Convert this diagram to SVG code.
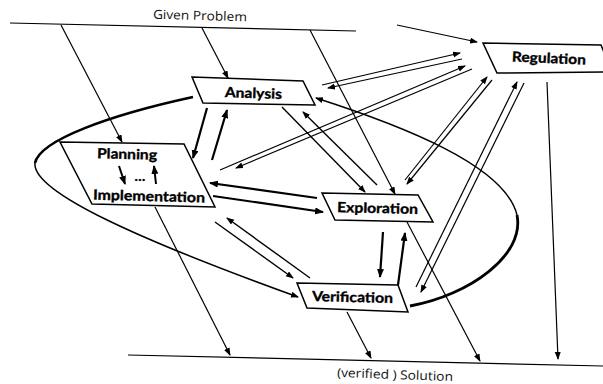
<svg xmlns="http://www.w3.org/2000/svg" width="603" height="384" viewBox="0 0 603 384">
  <style>
    .box { fill: #fff; stroke: #000; stroke-width: 1.5; }
    .lbl { font-family: Lato, "Liberation Sans", sans-serif; font-weight: bold; font-size: 14px; fill: #000; stroke: #000; stroke-width: 0.35; text-anchor: middle; }
    .cap { font-family: "Open Sans", "Liberation Sans", sans-serif; font-size: 12.5px; fill: #111; text-anchor: middle; }
    .ln { fill: none; stroke: #000; stroke-width: 1.2; }
    .ln2 { fill: none; stroke: #000; stroke-width: 1.4; }
    .th { fill: none; stroke: #000; stroke-width: 2.2; }
    .a { marker-end: url(#ah); }
    .ab { marker-end: url(#ahb); }
  </style>
  <defs>
    <marker id="ah" markerUnits="userSpaceOnUse" markerWidth="9" markerHeight="7" refX="7" refY="3" orient="auto">
      <path d="M0,0 L8,3 L0,6 z" fill="#000"/>
    </marker>
    <marker id="ahb" markerUnits="userSpaceOnUse" markerWidth="10" markerHeight="8" refX="8" refY="3.5" orient="auto">
      <path d="M0,0 L9,3.5 L0,7 z" fill="#000"/>
    </marker>
  </defs>
  <rect width="603" height="384" fill="#fff"/>

  <g id="connectors">
    <!-- input and output rails -->
    <path class="ln" d="M10,23 L356,31"/>
    <path class="ln" d="M128,355 L603,366"/>
    <path class="ln a" d="M397,25 L477,42"/>
    <path class="ln a" d="M61,25 L122,142"/>
    <path class="ln a" d="M202,28 L228,78"/>
    <path class="ln a" d="M310,30 L395,194"/>
    <path class="ln a" d="M407,222 L480,361"/>
    <path class="ln a" d="M155,207 L230,355"/>
    <path class="ln a" d="M347,312 L371,358"/>
    <path class="ln a" d="M547,82 L558,359"/>

    <!-- Analysis / Planning -->
    <path class="th ab" d="M207,108 L193,158"/>
    <path class="th ab" d="M212,160 L227,110"/>
    <!-- Analysis / Exploration -->
    <path class="ln2 a" d="M282,107 L365,192"/>
    <path class="ln2 a" d="M377,185 L303,112"/>
    <!-- Regulation pairs -->
    <path class="ln a" d="M322,85 L460,53"/>
    <path class="ln a" d="M462,59 L328,88"/>
    <path class="ln a" d="M220,170 L465,66"/>
    <path class="ln a" d="M472,69 L236,168"/>
    <path class="ln a" d="M405,180 L487,77"/>
    <path class="ln a" d="M492,80 L407,184"/>
    <path class="ln a" d="M416,287 L517,82"/>
    <path class="ln a" d="M524,83 L421,292"/>
    <!-- Planning / Exploration -->
    <path class="th ab" d="M317,198 L210,183"/>
    <path class="th ab" d="M213,196 L323,212"/>
    <!-- Planning / Verification -->
    <path class="ln2 a" d="M215,222 L293,278"/>
    <path class="ln2 a" d="M310,278 L227,218"/>
    <!-- Exploration / Verification -->
    <path class="th ab" d="M383,232 L380,277"/>
    <path class="th ab" d="M398,285 L405,233"/>

    <!-- outer loop, left side: Analysis round to Verification -->
    <path fill="none" stroke="#000" stroke-width="2.6" d="M193,97 C110,115 40,140 35,163"/>
    <path fill="none" stroke="#000" stroke-width="1.5" class="a" d="M35,163 C32,192 140,240 298,297"/>
    <!-- outer loop, right side: Verification round to Analysis -->
    <path fill="none" stroke="#000" stroke-width="2.8" d="M410,306 C470,295 525,255 517,215"/>
    <path fill="none" stroke="#000" stroke-width="1.4" class="a" d="M517,215 C505,165 400,125 316,98"/>
  </g>

  <g id="analysis">
    <polygon class="box" points="192,77 303,81 315,105 203,103"/>
    <text class="lbl" x="253.5" y="98" textLength="57" lengthAdjust="spacingAndGlyphs" transform="rotate(2 253.5 92)">Analysis</text>
  </g>

  <g id="planning">
    <polygon class="box" points="60,142 184,144 215,207 92,204"/>
    <text class="lbl" x="127" y="159" textLength="60" lengthAdjust="spacingAndGlyphs" transform="rotate(1.5 127 155)">Planning</text>
    <path fill="none" stroke="#000" stroke-width="2" marker-end="url(#ahb)" d="M119,166 L125,184"/>
    <text class="lbl" x="140" y="181" font-size="12">…</text>
    <path fill="none" stroke="#000" stroke-width="2" marker-end="url(#ahb)" d="M156,184 L154,166"/>
    <text class="lbl" x="149" y="201" textLength="112" lengthAdjust="spacingAndGlyphs" transform="rotate(1.5 149 196)">Implementation</text>
  </g>

  <g id="exploration">
    <polygon class="box" points="322,193 418,195 433,222 335,220"/>
    <text class="lbl" x="377.5" y="213" textLength="81" lengthAdjust="spacingAndGlyphs" transform="rotate(1.5 377.5 208)">Exploration</text>
  </g>

  <g id="verification">
    <polygon class="box" points="297,283 398,285 408,312 307,308"/>
    <text class="lbl" x="352.5" y="302" textLength="81" lengthAdjust="spacingAndGlyphs" transform="rotate(1.5 352.5 297)">Verification</text>
  </g>

  <g id="regulation">
    <polygon class="box" points="483,43 601,45 612,72 497,73"/>
    <text class="lbl" x="549" y="63" textLength="74" lengthAdjust="spacingAndGlyphs" transform="rotate(2.5 549 58)">Regulation</text>
  </g>

  <g id="labels">
    <text class="cap" x="200" y="20" textLength="94" lengthAdjust="spacingAndGlyphs" transform="rotate(1.5 200 16)">Given Problem</text>
    <text class="cap" x="395" y="379" textLength="116" lengthAdjust="spacingAndGlyphs" transform="rotate(2 395 375)">(verified ) Solution</text>
  </g>
</svg>
